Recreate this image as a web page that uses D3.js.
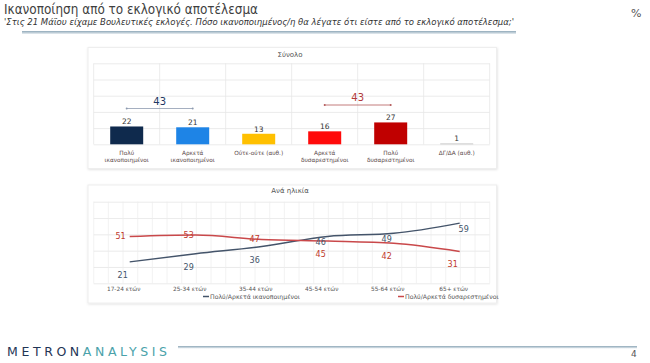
<!DOCTYPE html>
<html lang="el">
<head>
<meta charset="utf-8">
<title>Ικανοποίηση από το εκλογικό αποτέλεσμα</title>
<script src="https://d3js.org/d3.v7.min.js"></script>
<style>
  body { margin: 0; background: #fff; }
  text { font-family: "DejaVu Sans", sans-serif; }
</style>
</head>
<body>
<script>
// ---- data ----
const barCategories = [["Πολύ", "ικανοποιημένοι"], ["Αρκετά", "ικανοποιημένοι"], ["Ούτε-ούτε (αυθ.)"],
                       ["Αρκετά", "δυσαρεστημένοι"], ["Πολύ", "δυσαρεστημένοι"], ["ΔΓ/ΔΑ (αυθ.)"]];
const barValues = [22, 21, 13, 16, 27, 1];
const barColors = ["#0f2a4d", "#1e84e6", "#ffc000", "#ff0a0a", "#c00000", "#bfbfbf"];
const sumSatisfied = 43, sumDissatisfied = 43;

const ageGroups = ["17-24 ετών", "25-34 ετών", "35-44 ετών", "45-54 ετών", "55-64 ετών", "65+ ετών"];
const satisfied = [21, 29, 36, 46, 49, 59];
const dissatisfied = [51, 53, 47, 45, 42, 31];
const seriesNames = ["Πολύ/Αρκετά ικανοποιημένοι", "Πολύ/Αρκετά δυσαρεστημένοι"];

const w = 650, h = 363;
const blue = "#44546a", red = "#c9484a";

const svg = d3.select("body").append("svg").attr("width", w).attr("height", h);

const defs = svg.append("defs");
const grad = defs.append("linearGradient").attr("id", "rule").attr("x1", 0).attr("x2", 0).attr("y1", 0).attr("y2", 1);
grad.append("stop").attr("offset", "0%").attr("stop-color", "#8fa8b8");
grad.append("stop").attr("offset", "100%").attr("stop-color", "#e8eef2");
const sh = defs.append("filter").attr("id", "shadow").attr("x", "-5%").attr("y", "-5%").attr("width", "110%").attr("height", "115%");
sh.append("feDropShadow").attr("dx", 0.5).attr("dy", 0.8).attr("stdDeviation", 0.8).attr("flood-color", "#000").attr("flood-opacity", 0.12);

// ---- header ----
svg.append("text").attr("x", 4).attr("y", 13.5).attr("font-size", 14.5).attr("fill", "#3f3f3f")
   .attr("textLength", 254).attr("lengthAdjust", "spacingAndGlyphs")
   .text("Ικανοποίηση από το εκλογικό αποτέλεσμα");
svg.append("text").attr("x", 4).attr("y", 24.5).attr("font-size", 8).attr("font-style", "italic").attr("fill", "#333")
   .attr("textLength", 510).attr("lengthAdjust", "spacingAndGlyphs")
   .text("'Στις 21 Μάϊου είχαμε Βουλευτικές εκλογές. Πόσο ικανοποιημένος/η θα λέγατε ότι είστε από το εκλογικό αποτέλεσμα;'");
svg.append("text").attr("x", 631).attr("y", 17).attr("font-size", 11).attr("fill", "#555").text("%");
svg.append("rect").attr("x", 22).attr("y", 31).attr("width", 494).attr("height", 3).attr("fill", "url(#rule)");

// ---- shared x band ----
const x = d3.scaleBand().domain(d3.range(6)).range([93.7, 489.7]).padding(0);
const bw = 33;

// ---- top panel: Σύνολο ----
svg.append("rect").attr("x", 88).attr("y", 47.5).attr("width", 408.5).attr("height", 121)
   .attr("fill", "#fff").attr("stroke", "#eeeeee").attr("filter", "url(#shadow)");
svg.append("text").attr("x", 290).attr("y", 56.5).attr("text-anchor", "middle")
   .attr("font-size", 7).attr("fill", "#555").text("Σύνολο");

const yBar = d3.scaleLinear().domain([0, 100]).range([144.3, 63.3]);
const gTop = svg.append("g");
gTop.append("g")
    .call(d3.axisLeft(yBar).tickValues(d3.range(0, 101, 20)).tickSize(-(x.range()[1] - x.range()[0])).tickFormat(""))
    .attr("transform", `translate(${x.range()[0]},0)`)
    .call(g => g.select(".domain").remove())
    .call(g => g.selectAll("line").attr("stroke", "#e6e6e6").attr("stroke-width", 0.8));
gTop.selectAll("line.v").data(d3.range(7)).join("line").attr("class", "v")
    .attr("x1", i => x.range()[0] + i * x.bandwidth()).attr("x2", i => x.range()[0] + i * x.bandwidth())
    .attr("y1", yBar(100)).attr("y2", yBar(0)).attr("stroke", "#e6e6e6").attr("stroke-width", 0.8);

const cx = i => x(i) + x.bandwidth() / 2;

gTop.selectAll("rect.bar").data(barValues).join("rect").attr("class", "bar")
    .attr("x", (d, i) => cx(i) - bw / 2).attr("width", bw)
    .attr("y", d => yBar(d)).attr("height", d => yBar(0) - yBar(d))
    .attr("fill", (d, i) => barColors[i]);
gTop.selectAll("text.val").data(barValues).join("text").attr("class", "val")
    .attr("x", (d, i) => cx(i)).attr("y", d => yBar(d) - 2)
    .attr("text-anchor", "middle").attr("font-size", 7.5).attr("fill", "#333").text(d => d);

gTop.selectAll("text.cat").data(barCategories).join("text").attr("class", "cat")
    .attr("x", (d, i) => cx(i)).attr("y", 154.5).attr("text-anchor", "middle")
    .attr("font-size", 5.8).attr("fill", "#5a4848")
    .each(function(d) {
      d3.select(this).selectAll("tspan").data(d).join("tspan")
        .attr("x", d3.select(this).attr("x")).attr("dy", (t, j) => j ? 7.3 : 0).text(t => t);
    });

// brackets for the sums
function bracket(i0, i1, yLine, val, col, lineCol) {
  const g = gTop.append("g");
  g.append("line").attr("x1", cx(i0)).attr("x2", cx(i1)).attr("y1", yLine).attr("y2", yLine)
   .attr("stroke", lineCol).attr("stroke-width", 0.8);
  [cx(i0), cx(i1)].forEach(px => g.append("circle").attr("cx", px).attr("cy", yLine).attr("r", 1).attr("fill", lineCol));
  g.append("text").attr("x", (cx(i0) + cx(i1)) / 2).attr("y", yLine - 4)
   .attr("text-anchor", "middle").attr("font-size", 10).attr("fill", col).text(val);
}
bracket(0, 1, 108.5, sumSatisfied, "#1f3864", "#8e9bb0");
bracket(3, 4, 105, sumDissatisfied, "#b23a3a", "#b45a5a");

// ---- bottom panel: Ανά ηλικία ----
svg.append("rect").attr("x", 88).attr("y", 185).attr("width", 408.5).attr("height", 118)
   .attr("fill", "#fff").attr("stroke", "#eeeeee").attr("filter", "url(#shadow)");
svg.append("text").attr("x", 290).attr("y", 192.5).attr("text-anchor", "middle")
   .attr("font-size", 7).attr("fill", "#555").text("Ανά ηλικία");

const yL = d3.scaleLinear().domain([0, 80]).range([283.3, 201.7]);
const yR = d3.scaleLinear().domain([-12, 98]).range([283.3, 201.7]);
const gBot = svg.append("g");
gBot.append("g").attr("transform", `translate(${x.range()[0]},0)`)
    .call(d3.axisLeft(yL).tickValues(d3.range(0, 81, 16)).tickSize(-(x.range()[1] - x.range()[0])).tickFormat(""))
    .call(g => g.select(".domain").remove())
    .call(g => g.selectAll("line").attr("stroke", "#e6e6e6").attr("stroke-width", 0.8));
const xGrid = d3.scaleLinear().domain([0, 27]).range(x.range());
gBot.selectAll("line.v").data(d3.range(28)).join("line").attr("class", "v")
    .attr("x1", d => xGrid(d)).attr("x2", d => xGrid(d))
    .attr("y1", yL(80)).attr("y2", yL(0)).attr("stroke", "#ececec").attr("stroke-width", 0.7);

const px = i => cx(i) + 3;
const lineL = d3.line().x((d, i) => px(i)).y(d => yL(d)).curve(d3.curveMonotoneX);
const lineR = d3.line().x((d, i) => px(i)).y(d => yR(d)).curve(d3.curveMonotoneX);
gBot.append("path").attr("d", lineL(satisfied)).attr("fill", "none").attr("stroke", blue).attr("stroke-width", 1.5);
gBot.append("path").attr("d", lineR(dissatisfied)).attr("fill", "none").attr("stroke", red).attr("stroke-width", 1.5);

gBot.selectAll("text.lb").data(satisfied).join("text").attr("class", "lb")
    .attr("x", (d, i) => i === 5 ? px(i) + 4 : cx(i) - 4)
    .attr("y", (d, i) => yL(d) + (i < 3 ? 16 : 8.5))
    .attr("text-anchor", "middle").attr("font-size", 8).attr("fill", blue).text(d => d);
gBot.selectAll("text.lr").data(dissatisfied).join("text").attr("class", "lr")
    .attr("x", (d, i) => i === 0 ? px(i) - 4 : cx(i) - 4)
    .attr("y", (d, i) => yR(d) + (i < 3 ? 2.5 : 16))
    .attr("text-anchor", (d, i) => i === 0 ? "end" : "middle")
    .attr("font-size", 8).attr("fill", "#c0392b").text(d => d);

gBot.selectAll("text.age").data(ageGroups).join("text").attr("class", "age")
    .attr("x", (d, i) => cx(i) - 3).attr("y", 291).attr("text-anchor", "middle")
    .attr("font-size", 5.8).attr("fill", "#555").text(d => d);

// legend
[[203, blue], [398, red]].forEach(([lx, col], i) => {
  gBot.append("line").attr("x1", lx).attr("x2", lx + 6).attr("y1", 296.5).attr("y2", 296.5)
      .attr("stroke", col).attr("stroke-width", 1.5);
  gBot.append("text").attr("x", lx + 7).attr("y", 298.5).attr("font-size", 6.2).attr("fill", "#555")
      .text(seriesNames[i]);
});

// ---- footer ----
const logo = svg.append("text").attr("x", 7).attr("y", 356).attr("font-size", 12.5)
   .attr("font-family", "'Open Sans', sans-serif")
   .attr("textLength", 160).attr("lengthAdjust", "spacing");
logo.append("tspan").attr("fill", "#1f3556").text("METRON");
logo.append("tspan").attr("fill", "#4aa2aa").text("ANALYSIS");
svg.append("rect").attr("x", 178).attr("y", 346).attr("width", 459).attr("height", 2.5).attr("fill", "url(#rule)");
svg.append("text").attr("x", 631).attr("y", 357).attr("font-size", 9).attr("fill", "#555").text("4");
</script>
</body>
</html>
